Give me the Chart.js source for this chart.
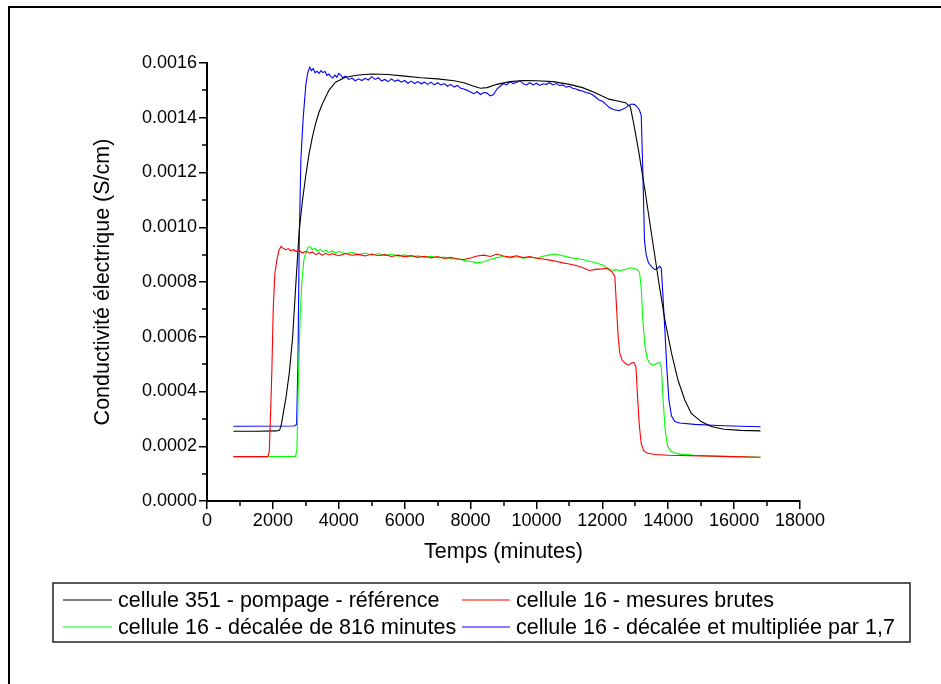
<!DOCTYPE html>
<html>
<head>
<meta charset="utf-8">
<script src="https://cdn.jsdelivr.net/npm/chart.js@4.4.1/dist/chart.umd.min.js"></script>
<style>
  html, body { margin: 0; padding: 0; background: #fff; }
  #wrap { width: 941px; height: 684px; position: relative; }
</style>
</head>
<body>
<div id="wrap"><canvas id="c" width="941" height="684"></canvas></div>
<script>
// ---------- DATA ----------
const seriesLabels = [
  "cellule 351 - pompage - référence",
  "cellule 16 - mesures brutes",
  "cellule 16 - décalée de 816 minutes",
  "cellule 16 - décalée et multipliée par 1,7"
];
const xTickValues = [0, 2000, 4000, 6000, 8000, 10000, 12000, 14000, 16000, 18000];
const yTickValues = [0, 0.0002, 0.0004, 0.0006, 0.0008, 0.0010, 0.0012, 0.0014, 0.0016];
const xTitle = "Temps (minutes)";
const yTitle = "Conductivité électrique (S/cm)";

// black: cellule 351
const refT = [800,1500,2100,2200,2250,2300,2400,2500,2600,2700,2800,2900,3000,3100,3200,3300,3400,3500,3700,3900,4200,4600,5000,5500,6000,6500,7000,7500,7800,8100,8300,8500,8800,9200,9600,10000,10500,11000,11400,11800,12200,12500,12700,12850,12950,13100,13300,13500,13700,13900,14100,14300,14500,14700,15000,15300,15700,16200,16800];
const refV = [0.000255,0.000255,0.000256,0.000258,0.000275,0.00031,0.00038,0.00047,0.00060,0.00080,0.00099,0.00110,0.00119,0.00127,0.00133,0.00138,0.00142,0.00145,0.00150,0.00153,0.001548,0.001556,0.00156,0.001558,0.001552,0.001546,0.001542,0.001535,0.001528,0.001515,0.001508,0.00151,0.001522,0.001532,0.001536,0.001535,0.001532,0.001522,0.00151,0.00149,0.001468,0.00146,0.001455,0.00144,0.00138,0.00128,0.00113,0.00097,0.00081,0.00066,0.00054,0.00044,0.00037,0.00032,0.00029,0.000272,0.000262,0.000258,0.000256];

// red: cellule 16 raw
const rawT = [800,1850,1890,1930,1970,2010,2060,2120,2180,2250,2320,2400,2470,2540,2620,2700,2800,2900,3000,3100,3200,3300,3400,3500,3600,3700,3800,4000,4200,4400,4600,4800,5000,5200,5400,5600,5800,6000,6200,6400,6600,6800,7000,7200,7400,7600,7800,8000,8200,8400,8600,8800,9000,9200,9400,9600,9800,10000,10200,10400,10600,10800,11000,11200,11400,11600,11800,12000,12150,12300,12380,12430,12480,12530,12600,12700,12800,12900,12960,13020,13070,13120,13180,13250,13350,13600,14000,15000,16000,16800];
const rawV = [0.000162,0.000162,0.00018,0.00032,0.00048,0.0007,0.00083,0.00088,0.000915,0.00093,0.000922,0.000918,0.000922,0.000914,0.000918,0.000912,0.000915,0.000906,0.000912,0.000905,0.00091,0.0009,0.000906,0.000898,0.000905,0.000899,0.000903,0.000896,0.000904,0.000898,0.000901,0.000895,0.000902,0.000896,0.0009,0.000893,0.000898,0.000892,0.000897,0.00089,0.000894,0.000888,0.000893,0.000886,0.00089,0.000884,0.000882,0.000888,0.000895,0.000898,0.000893,0.000902,0.000895,0.000891,0.000896,0.000889,0.000893,0.000887,0.000884,0.00088,0.000876,0.00087,0.000866,0.00086,0.000853,0.000842,0.000846,0.000848,0.00085,0.000836,0.00082,0.00071,0.0006,0.00054,0.000515,0.000502,0.000496,0.000505,0.000506,0.00049,0.00038,0.00028,0.00021,0.000185,0.000175,0.00017,0.000167,0.000165,0.000162,0.00016];

// green: shifted by 816 min
const shiftT = [800,2690,2730,2770,2830,2880,2940,3000,3060,3120,3200,3280,3360,3440,3520,3600,3700,3800,3900,4000,4200,4400,4600,4800,5000,5200,5400,5600,5800,6000,6200,6400,6600,6800,7000,7200,7400,7600,7800,8000,8200,8400,8600,8800,9000,9200,9400,9600,9800,10000,10200,10400,10600,10800,11000,11200,11400,11600,11800,12000,12200,12300,12400,12550,12700,12850,12950,13050,13130,13180,13230,13290,13360,13450,13550,13650,13740,13790,13840,13900,13980,14080,14300,14800,15600,16800];
const shiftV = [0.000162,0.000163,0.00019,0.00042,0.00068,0.0008,0.00088,0.000905,0.000925,0.00093,0.000918,0.000924,0.000912,0.00092,0.00091,0.000916,0.000908,0.000914,0.000905,0.000912,0.000903,0.000908,0.0009,0.000906,0.000898,0.000904,0.000897,0.000902,0.000894,0.000899,0.000892,0.000896,0.00089,0.000894,0.000888,0.000891,0.000884,0.000886,0.000879,0.000875,0.00087,0.000874,0.000882,0.000889,0.000893,0.000888,0.000892,0.000887,0.000891,0.000888,0.000894,0.000899,0.000902,0.000896,0.00089,0.000886,0.000882,0.000876,0.00087,0.000862,0.000848,0.000842,0.000845,0.000842,0.000846,0.000852,0.00085,0.000846,0.000835,0.00078,0.00066,0.00057,0.00052,0.000502,0.000496,0.000502,0.000506,0.00049,0.00038,0.00027,0.0002,0.000182,0.000172,0.000167,0.000163,0.00016];

// blue: shifted and multiplied by 1.7
const scaledT = [800,2650,2720,2760,2800,2850,2920,3000,3060,3120,3170,3220,3280,3340,3400,3460,3520,3580,3640,3700,3760,3820,3880,3940,4000,4060,4120,4200,4300,4400,4500,4600,4700,4800,4900,5000,5100,5200,5300,5400,5500,5600,5700,5800,5900,6000,6100,6200,6300,6400,6500,6600,6700,6800,6900,7000,7100,7200,7300,7400,7500,7600,7700,7800,7900,8000,8100,8200,8300,8400,8500,8600,8700,8800,8900,9000,9100,9200,9300,9400,9500,9600,9700,9800,9900,10000,10100,10200,10300,10400,10500,10600,10700,10800,10900,11000,11100,11200,11300,11400,11500,11600,11700,11800,11900,12000,12100,12200,12300,12400,12500,12600,12700,12800,12900,12980,13060,13120,13180,13230,13280,13330,13400,13500,13600,13680,13740,13790,13840,13900,13960,14020,14100,14200,14350,14800,15500,16200,16800];
const scaledV = [0.000273,0.000274,0.00028,0.0005,0.00095,0.00125,0.0014,0.00152,0.001565,0.001585,0.001572,0.00158,0.001565,0.00157,0.001562,0.001572,0.001565,0.00157,0.001555,0.00156,0.00155,0.001545,0.001556,0.001548,0.001562,0.001556,0.001546,0.001552,0.00154,0.001545,0.001535,0.001542,0.001536,0.001544,0.001538,0.00155,0.00154,0.001546,0.001535,0.00154,0.001532,0.001542,0.001533,0.001538,0.00153,0.001536,0.001526,0.001534,0.001525,0.001532,0.001524,0.00153,0.001522,0.00153,0.00152,0.001528,0.00152,0.001525,0.001515,0.001522,0.001512,0.001518,0.001508,0.001505,0.0015,0.001494,0.001488,0.001495,0.001485,0.001492,0.00149,0.00148,0.001485,0.001505,0.001515,0.001525,0.00152,0.001532,0.001525,0.00153,0.001535,0.001524,0.00152,0.001528,0.00152,0.001526,0.001518,0.001524,0.001522,0.001528,0.00152,0.001525,0.001518,0.00152,0.001512,0.001515,0.001508,0.001505,0.0015,0.001498,0.001492,0.00149,0.001484,0.001475,0.001465,0.00146,0.00145,0.001438,0.001432,0.001428,0.001426,0.00143,0.001436,0.001445,0.00145,0.001448,0.00144,0.00143,0.00141,0.0012,0.00095,0.0009,0.00087,0.000855,0.000845,0.00085,0.000858,0.00085,0.00075,0.00062,0.00048,0.00037,0.00031,0.00029,0.000285,0.00028,0.000276,0.000273,0.000271];

const seriesColors = ["#000000", "#ff0000", "#00ff00", "#0000ff"];

// ---------- BUILD ----------
function pts(t, v) { return t.map((x, i) => ({ x: x, y: v[i] })); }
const seriesData = [pts(refT, refV), pts(rawT, rawV), pts(shiftT, shiftV), pts(scaledT, scaledV)];
const drawOrder = [1, 2, 0, 3];

const FONT = "'Liberation Sans', Arial, sans-serif";

const bgPlugin = {
  id: 'bg',
  beforeDraw(chart) {
    const ctx = chart.ctx;
    ctx.save();
    ctx.fillStyle = '#fff';
    ctx.fillRect(0, 0, chart.width, chart.height);
    ctx.restore();
  },
  afterDraw(chart) {
    const ctx = chart.ctx;
    ctx.save();
    ctx.fillStyle = '#000';
    ctx.fillRect(8, 6, 2, chart.height - 6);
    ctx.fillRect(8, 6, chart.width - 8, 2);

    const xs = chart.scales.x, ys = chart.scales.y;
    ctx.strokeStyle = '#000';
    ctx.lineWidth = 1.5;
    ctx.beginPath();
    for (let i = 0; i < xTickValues.length - 1; i++) {
      const mid = (xTickValues[i] + xTickValues[i + 1]) / 2;
      const px = Math.round(xs.getPixelForValue(mid));
      ctx.moveTo(px, ys.bottom);
      ctx.lineTo(px, ys.bottom + 5);
    }
    for (let i = 0; i < yTickValues.length - 1; i++) {
      const mid = (yTickValues[i] + yTickValues[i + 1]) / 2;
      const py = Math.round(ys.getPixelForValue(mid));
      ctx.moveTo(xs.left, py);
      ctx.lineTo(xs.left - 5, py);
    }
    ctx.stroke();

    const L = 53, T = 583, R = 910, B = 642;
    ctx.strokeStyle = '#222';
    ctx.lineWidth = 1.5;
    ctx.strokeRect(L, T, R - L, B - T);
    ctx.font = "21.5px " + FONT;
    ctx.fillStyle = '#000';
    ctx.textBaseline = 'middle';
    ctx.textAlign = 'left';
    const rows = [600, 627];
    const cols = [{ l0: 63, l1: 112, tx: 118 }, { l0: 462, l1: 510, tx: 516 }];
    for (let i = 0; i < 4; i++) {
      const r = Math.floor(i / 2), c = i % 2;
      const y = rows[r];
      ctx.strokeStyle = seriesColors[i];
      ctx.lineWidth = 1.2;
      ctx.beginPath();
      ctx.moveTo(cols[c].l0, y);
      ctx.lineTo(cols[c].l1, y);
      ctx.stroke();
      ctx.fillText(seriesLabels[i], cols[c].tx, y + 1);
    }
    ctx.restore();
  }
};

const datasets = drawOrder.map(i => ({
  label: seriesLabels[i],
  data: seriesData[i],
  borderColor: seriesColors[i],
  backgroundColor: seriesColors[i],
  borderWidth: 1.1,
  pointRadius: 0,
  tension: 0,
  fill: false
}));

new Chart(document.getElementById('c'), {
  type: 'line',
  data: { datasets: datasets },
  plugins: [bgPlugin],
  options: {
    responsive: false,
    animation: false,
    devicePixelRatio: 1,
    layout: { padding: { left: 80, top: 63, right: 141, bottom: 110 } },
    plugins: { legend: { display: false }, tooltip: { enabled: false } },
    scales: {
      x: {
        type: 'linear',
        min: 0, max: 18000,
        afterBuildTicks(scale) { scale.ticks = xTickValues.map(v => ({ value: v })); },
        afterFit(scale) { scale.height = 73; },
        ticks: {
          color: '#000',
          font: { family: FONT, size: 18 },
          padding: 1,
          maxRotation: 0,
          callback: v => String(v)
        },
        grid: { display: true, drawOnChartArea: false, drawTicks: true, tickLength: 8, color: '#000', lineWidth: 1.5 },
        border: { display: true, color: '#000', width: 2 },
        title: { display: true, text: xTitle, color: '#000', font: { family: FONT, size: 21.5 }, padding: { top: 4, bottom: 9 } }
      },
      y: {
        type: 'linear',
        min: 0, max: 0.0016,
        afterBuildTicks(scale) { scale.ticks = yTickValues.map(v => ({ value: v })); },
        afterFit(scale) { scale.width = 127; },
        ticks: {
          color: '#000',
          font: { family: FONT, size: 18 },
          padding: 2,
          callback: v => Number(v).toFixed(4)
        },
        grid: { display: true, drawOnChartArea: false, drawTicks: true, tickLength: 8, color: '#000', lineWidth: 1.5 },
        border: { display: true, color: '#000', width: 2 },
        title: { display: true, text: yTitle, color: '#000', font: { family: FONT, size: 21.5 }, padding: { top: 10, bottom: 0 } }
      }
    }
  }
});
</script>
</body>
</html>
